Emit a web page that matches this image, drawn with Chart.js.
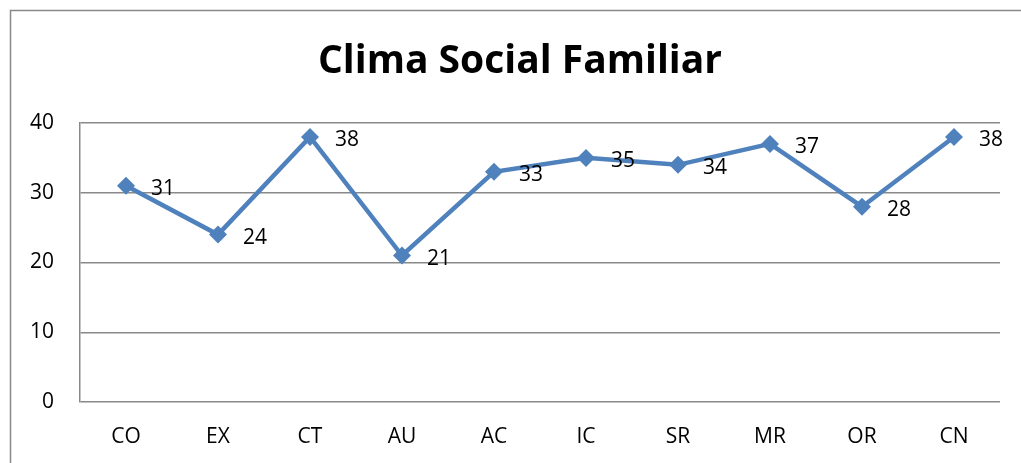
<!DOCTYPE html>
<html>
<head>
<meta charset="utf-8">
<script src="https://cdn.jsdelivr.net/npm/chart.js@4"></script>
<style>
  html, body { margin: 0; padding: 0; background: #fff; }
  #wrap { width: 1021px; height: 463px; position: relative; }
</style>
</head>
<body>
<div id="wrap"><canvas id="myChart" width="1021" height="463"></canvas></div>
<script>
const categories = ['CO', 'EX', 'CT', 'AU', 'AC', 'IC', 'SR', 'MR', 'OR', 'CN']
const values = [31, 24, 38, 21, 33, 35, 34, 37, 28, 38]
const yTicks = [0, 10, 20, 30, 40]
const chartTitle = 'Clima Social Familiar'

const FONT = "'Open Sans', 'Noto Sans', sans-serif"
const blue = '#4F81BD'
const gray = '#898989'

// outer frame of the chart image + title
const framePlugin = {
  id: 'frame',
  beforeDraw(chart) {
    const ctx = chart.ctx
    ctx.save()
    ctx.strokeStyle = gray
    ctx.lineWidth = 1.5
    ctx.beginPath()
    ctx.moveTo(10.5, 470)
    ctx.lineTo(10.5, 10.5)
    ctx.lineTo(1030, 10.5)
    ctx.stroke()

    ctx.fillStyle = '#000'
    ctx.font = "bold 39px " + FONT
    ctx.textAlign = 'center'
    ctx.textBaseline = 'middle'
    ctx.fillText(chartTitle, 520, 62)
    ctx.restore()
  }
}

// value labels to the right of each point
const valueLabels = {
  id: 'valueLabels',
  afterDatasetsDraw(chart) {
    const ctx = chart.ctx
    const meta = chart.getDatasetMeta(0)
    ctx.save()
    ctx.font = "21px " + FONT
    ctx.fillStyle = '#000'
    ctx.textAlign = 'left'
    ctx.textBaseline = 'middle'
    meta.data.forEach(function(pt, i){
      ctx.fillText(String(values[i]), pt.x + 25, pt.y + 3)
    })
    ctx.restore()
  }
}

const ctx = document.getElementById('myChart')

const chart = new Chart(ctx, {
  type: 'line',
  data: {
    labels: categories,
    datasets: [{
      label: chartTitle,
      data: values,
      borderColor: blue,
      backgroundColor: blue,
      borderWidth: 4.5,
      pointStyle: 'rectRot',
      pointRadius: 9,
      pointBorderWidth: 0,
      tension: 0,
    }]
  },
  options: {
    responsive: false,
    animation: false,
    layout: { padding: { left: 0, right: 21, top: 123, bottom: 0 } },
    plugins: {
      legend: { display: false },
      tooltip: { enabled: false },
      title: { display: false }
    },
    scales: {
      x: {
        offset: true,
        grid: { display: false, drawTicks: false },
        border: { display: false },
        ticks: { color: '#000', padding: 22, font: { family: FONT, size: 21 } },
        afterFit(scale) { scale.height = 61 }
      },
      y: {
        min: 0,
        max: 40,
        afterBuildTicks(scale) { scale.ticks = yTicks.map(v => ({ value: v })) },
        grid: { color: gray, lineWidth: 1.5, drawTicks: false },
        border: { display: true, color: gray, width: 1.5 },
        ticks: { color: '#000', padding: 26, font: { family: FONT, size: 21 } },
        afterFit(scale) { scale.width = 80 }
      }
    }
  },
  plugins: [framePlugin, valueLabels]
})
</script>
</body>
</html>
